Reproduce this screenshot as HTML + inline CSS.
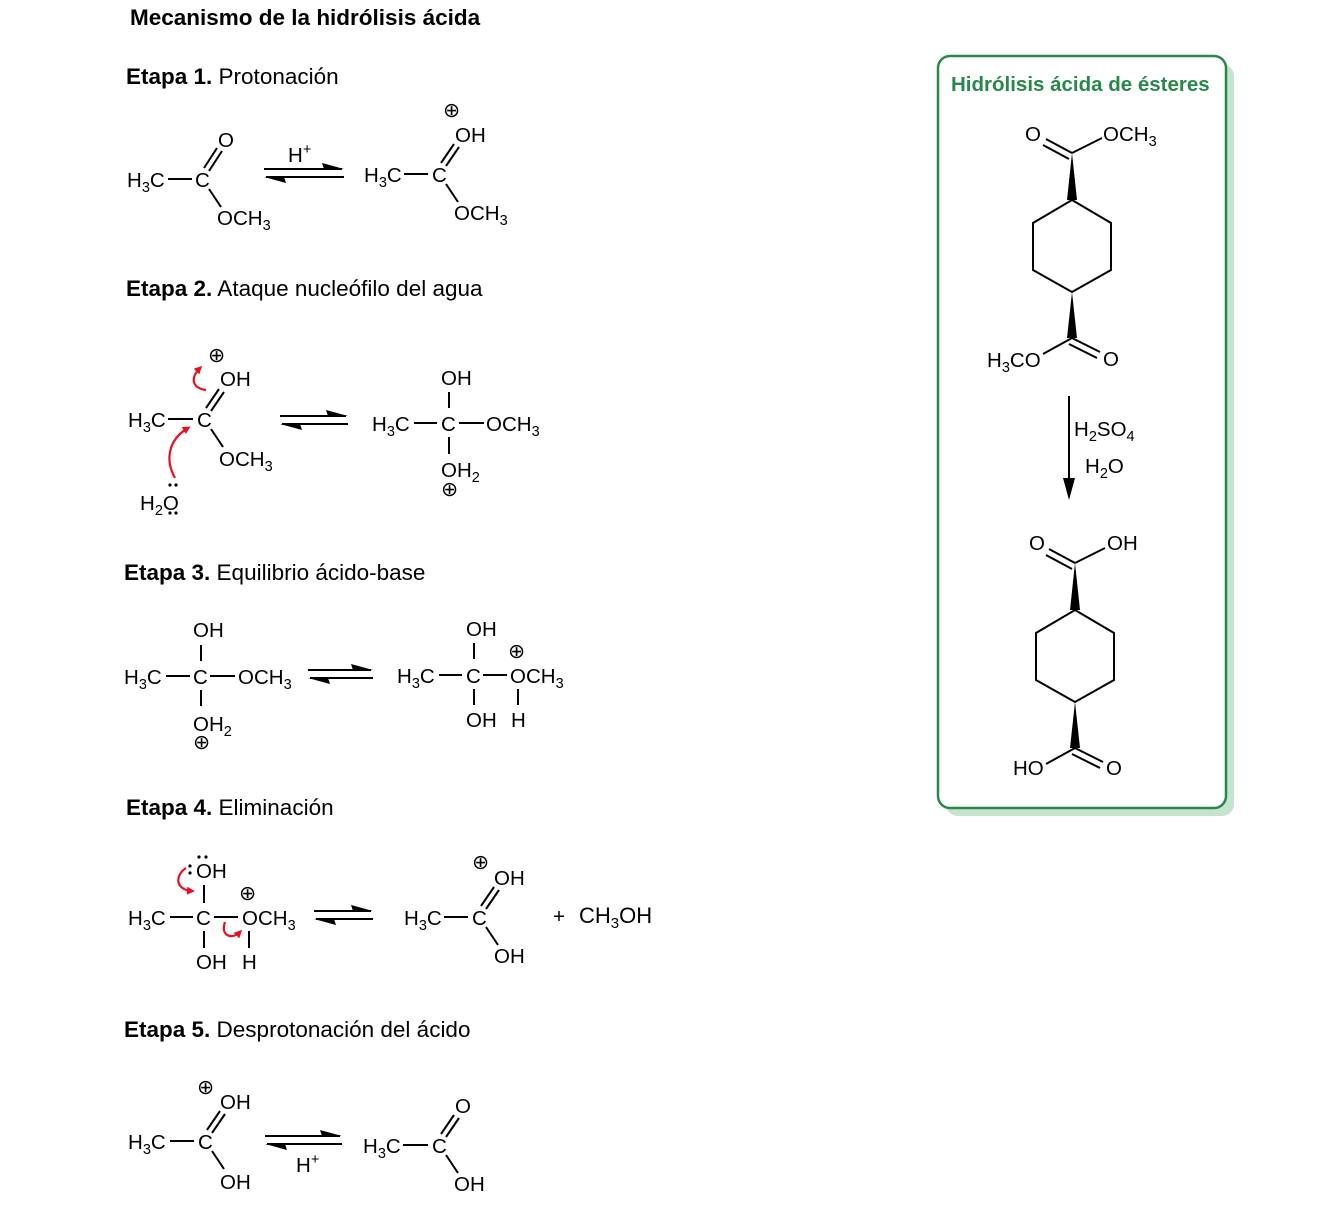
<!DOCTYPE html>
<html><head><meta charset="utf-8"><style>
html,body{margin:0;padding:0;background:#fff}
svg{display:block}
text{font-family:"Liberation Sans",Arial,sans-serif;fill:#000}
.t{font-size:20.5px}
.h{font-size:22.5px}
.b{font-weight:bold}
.s{font-size:14.5px}
line,polyline,path.l{stroke:#000;stroke-width:2;fill:none}
.r{stroke:#e8101e;stroke-width:2.2;fill:none}
</style></head><body>
<svg width="1334" height="1222" viewBox="0 0 1334 1222" xmlns="http://www.w3.org/2000/svg">
<defs>
<marker id="ra" markerWidth="8" markerHeight="8" refX="5" refY="4" orient="auto" markerUnits="userSpaceOnUse"><path d="M0,0 L8,4 L0,8 Z" fill="#e8101e"/></marker>
</defs>

<!-- Headings -->
<text x="130" y="25" class="h b">Mecanismo de la hidrólisis ácida</text>
<text x="126" y="84" class="h"><tspan class="b">Etapa 1.</tspan> Protonación</text>
<text x="126" y="296" class="h"><tspan class="b">Etapa 2.</tspan> Ataque nucleófilo del agua</text>
<text x="124" y="580" class="h"><tspan class="b">Etapa 3.</tspan> Equilibrio ácido-base</text>
<text x="126" y="815" class="h"><tspan class="b">Etapa 4.</tspan> Eliminación</text>
<text x="124" y="1037" class="h"><tspan class="b">Etapa 5.</tspan> Desprotonación del ácido</text>

<!-- STEP 1 -->
<text x="127" y="187" class="t">H<tspan class="s" dy="5">3</tspan><tspan dy="-5">C</tspan></text>
<line x1="168" y1="179" x2="192" y2="179"/>
<text x="195" y="187" class="t">C</text>
<line x1="204" y1="168" x2="217" y2="148"/><line x1="209" y1="171" x2="222" y2="151"/>
<text x="218" y="147" class="t">O</text>
<line x1="209" y1="189" x2="221" y2="207"/>
<text x="217" y="225" class="t">OCH<tspan class="s" dy="5">3</tspan></text>
<line x1="264" y1="169" x2="342" y2="169"/><path d="M344,169 L322,163 L324,169 Z" fill="#000"/>
<line x1="266" y1="177" x2="344" y2="177"/><path d="M264,177 L286,183 L284,177 Z" fill="#000"/>
<text x="288" y="162" class="t">H<tspan class="s" dy="-8">+</tspan></text>
<text x="364" y="182" class="t">H<tspan class="s" dy="5">3</tspan><tspan dy="-5">C</tspan></text>
<line x1="404" y1="174" x2="428" y2="174"/>
<text x="432" y="182" class="t">C</text>
<line x1="441" y1="163" x2="454" y2="144"/><line x1="446" y1="166" x2="459" y2="147"/>
<text x="455" y="142" class="t">OH</text>
<text x="443" y="117" class="t">⊕</text>
<line x1="446" y1="184" x2="458" y2="202"/>
<text x="454" y="220" class="t">OCH<tspan class="s" dy="5">3</tspan></text>

<!-- STEP 2 -->
<text x="128" y="427" class="t">H<tspan class="s" dy="5">3</tspan><tspan dy="-5">C</tspan></text>
<line x1="168" y1="419" x2="193" y2="419"/>
<text x="197" y="427" class="t">C</text>
<line x1="206" y1="408" x2="219" y2="389"/><line x1="211" y1="411" x2="224" y2="392"/>
<text x="220" y="386" class="t">OH</text>
<text x="208" y="362" class="t">⊕</text>
<line x1="211" y1="429" x2="223" y2="447"/>
<text x="219" y="466" class="t">OCH<tspan class="s" dy="5">3</tspan></text>
<text x="140" y="510" class="t">H<tspan class="s" dy="5">2</tspan><tspan dy="-5">O</tspan></text>
<circle cx="170" cy="485" r="1.6"/><circle cx="176" cy="485" r="1.6"/>
<circle cx="170" cy="513" r="1.6"/><circle cx="176" cy="513" r="1.6"/>
<path class="r" d="M175,478 C165,460 168,440 188,428" marker-end="url(#ra)"/>
<path class="r" d="M206,390 C192,388 190,378 200,368" marker-end="url(#ra)"/>
<line x1="280" y1="416" x2="346" y2="416"/><path d="M348,416 L326,410 L328,416 Z" fill="#000"/>
<line x1="282" y1="424" x2="348" y2="424"/><path d="M280,424 L302,430 L300,424 Z" fill="#000"/>
<text x="372" y="431" class="t">H<tspan class="s" dy="5">3</tspan><tspan dy="-5">C</tspan></text>
<line x1="414" y1="423" x2="437" y2="423"/>
<text x="441" y="431" class="t">C</text>
<line x1="459" y1="423" x2="484" y2="423"/>
<text x="486" y="431" class="t">OCH<tspan class="s" dy="5">3</tspan></text>
<text x="441" y="385" class="t">OH</text>
<line x1="449" y1="392" x2="449" y2="408"/>
<line x1="449" y1="437" x2="449" y2="454"/>
<text x="441" y="477" class="t">OH<tspan class="s" dy="5">2</tspan></text>
<text x="441" y="496" class="t">⊕</text>

<!-- STEP 3 -->
<text x="124" y="684" class="t">H<tspan class="s" dy="5">3</tspan><tspan dy="-5">C</tspan></text>
<line x1="166" y1="676" x2="190" y2="676"/>
<text x="193" y="684" class="t">C</text>
<line x1="210" y1="676" x2="235" y2="676"/>
<text x="238" y="684" class="t">OCH<tspan class="s" dy="5">3</tspan></text>
<text x="193" y="637" class="t">OH</text>
<line x1="201" y1="645" x2="201" y2="661"/>
<line x1="201" y1="690" x2="201" y2="706"/>
<text x="193" y="731" class="t">OH<tspan class="s" dy="5">2</tspan></text>
<text x="193" y="749" class="t">⊕</text>
<line x1="308" y1="670" x2="371" y2="670"/><path d="M373,670 L351,664 L353,670 Z" fill="#000"/>
<line x1="310" y1="678" x2="373" y2="678"/><path d="M308,678 L330,684 L328,678 Z" fill="#000"/>
<text x="397" y="683" class="t">H<tspan class="s" dy="5">3</tspan><tspan dy="-5">C</tspan></text>
<line x1="439" y1="675" x2="462" y2="675"/>
<text x="466" y="683" class="t">C</text>
<line x1="483" y1="675" x2="507" y2="675"/>
<text x="510" y="683" class="t">OCH<tspan class="s" dy="5">3</tspan></text>
<text x="466" y="636" class="t">OH</text>
<line x1="474" y1="643" x2="474" y2="659"/>
<line x1="474" y1="689" x2="474" y2="705"/>
<text x="466" y="727" class="t">OH</text>
<line x1="518" y1="689" x2="518" y2="705"/>
<text x="511" y="727" class="t">H</text>
<text x="508" y="658" class="t">⊕</text>

<!-- STEP 4 -->
<text x="128" y="925" class="t">H<tspan class="s" dy="5">3</tspan><tspan dy="-5">C</tspan></text>
<line x1="170" y1="917" x2="193" y2="917"/>
<text x="196" y="925" class="t">C</text>
<line x1="214" y1="917" x2="238" y2="917"/>
<text x="242" y="925" class="t">OCH<tspan class="s" dy="5">3</tspan></text>
<text x="196" y="878" class="t">OH</text>
<circle cx="199" cy="857" r="1.6"/><circle cx="206" cy="857" r="1.6"/>
<circle cx="190" cy="866" r="1.6"/><circle cx="190" cy="873" r="1.6"/>
<line x1="204" y1="885" x2="204" y2="903"/>
<line x1="204" y1="931" x2="204" y2="948"/>
<text x="196" y="969" class="t">OH</text>
<line x1="249" y1="931" x2="249" y2="948"/>
<text x="242" y="969" class="t">H</text>
<text x="239" y="900" class="t">⊕</text>
<path class="r" d="M186,868 C174,876 176,890 192,891" marker-end="url(#ra)"/>
<path class="r" d="M225,922 C220,936 232,940 240,932" marker-end="url(#ra)"/>
<line x1="314" y1="911" x2="371" y2="911"/><path d="M373,911 L351,905 L353,911 Z" fill="#000"/>
<line x1="316" y1="919" x2="373" y2="919"/><path d="M314,919 L336,925 L334,919 Z" fill="#000"/>
<text x="404" y="925" class="t">H<tspan class="s" dy="5">3</tspan><tspan dy="-5">C</tspan></text>
<line x1="444" y1="917" x2="468" y2="917"/>
<text x="472" y="925" class="t">C</text>
<line x1="481" y1="906" x2="494" y2="887"/><line x1="486" y1="909" x2="499" y2="890"/>
<text x="494" y="885" class="t">OH</text>
<text x="472" y="869" class="t">⊕</text>
<line x1="486" y1="927" x2="498" y2="945"/>
<text x="494" y="963" class="t">OH</text>
<text x="553" y="923" class="t">+</text>
<text x="579" y="923" style="font-size:22px">CH<tspan style="font-size:15px" dy="5">3</tspan><tspan dy="-5">OH</tspan></text>

<!-- STEP 5 -->
<text x="128" y="1149" class="t">H<tspan class="s" dy="5">3</tspan><tspan dy="-5">C</tspan></text>
<line x1="170" y1="1141" x2="194" y2="1141"/>
<text x="198" y="1149" class="t">C</text>
<line x1="207" y1="1130" x2="220" y2="1111"/><line x1="212" y1="1133" x2="225" y2="1114"/>
<text x="220" y="1109" class="t">OH</text>
<text x="197" y="1094" class="t">⊕</text>
<line x1="212" y1="1151" x2="224" y2="1169"/>
<text x="220" y="1189" class="t">OH</text>
<line x1="265" y1="1136" x2="340" y2="1136"/><path d="M342,1136 L320,1130 L322,1136 Z" fill="#000"/>
<line x1="267" y1="1144" x2="342" y2="1144"/><path d="M265,1144 L287,1150 L285,1144 Z" fill="#000"/>
<text x="296" y="1172" class="t">H<tspan class="s" dy="-8">+</tspan></text>
<text x="363" y="1153" class="t">H<tspan class="s" dy="5">3</tspan><tspan dy="-5">C</tspan></text>
<line x1="403" y1="1145" x2="428" y2="1145"/>
<text x="432" y="1153" class="t">C</text>
<line x1="441" y1="1134" x2="454" y2="1115"/><line x1="446" y1="1137" x2="459" y2="1118"/>
<text x="455" y="1113" class="t">O</text>
<line x1="446" y1="1155" x2="458" y2="1173"/>
<text x="454" y="1191" class="t">OH</text>

<!-- RIGHT BOX -->
<rect x="946" y="64" width="288" height="752" rx="12" fill="#c6e3d0"/>
<rect x="938" y="56" width="288" height="752" rx="12" fill="#fff" stroke="#27884a" stroke-width="2.5"/>
<text x="951" y="91" style="font-size:20.5px;font-weight:bold;fill:#27884a">Hidrólisis ácida de ésteres</text>

<text x="1025" y="141" class="t">O</text>
<text x="1103" y="141" class="t">OCH<tspan class="s" dy="5">3</tspan></text>
<line x1="1046" y1="139" x2="1072" y2="153"/><line x1="1043" y1="145" x2="1069" y2="159"/>
<line x1="1072" y1="153" x2="1102" y2="138"/>
<path d="M1072,153 L1077,200 L1067,200 Z" fill="#000"/>
<polygon points="1072,200 1111,223 1111,270 1072,292 1033,270 1033,223" fill="none" stroke="#000" stroke-width="2"/>
<path d="M1072,292 L1077,338 L1067,338 Z" fill="#000"/>
<line x1="1072" y1="338" x2="1043" y2="354"/>
<line x1="1072" y1="338" x2="1100" y2="352"/><line x1="1069" y1="344" x2="1097" y2="358"/>
<text x="987" y="367" class="t">H<tspan class="s" dy="5">3</tspan><tspan dy="-5">CO</tspan></text>
<text x="1103" y="366" class="t">O</text>

<line x1="1069" y1="396" x2="1069" y2="485"/>
<path d="M1069,500 L1063,478 L1075,478 Z" fill="#000"/>
<text x="1074" y="436" class="t">H<tspan class="s" dy="5">2</tspan><tspan dy="-5">SO</tspan><tspan class="s" dy="5">4</tspan></text>
<text x="1085" y="473" class="t">H<tspan class="s" dy="5">2</tspan><tspan dy="-5">O</tspan></text>

<text x="1029" y="550" class="t">O</text>
<text x="1107" y="550" class="t">OH</text>
<line x1="1049" y1="549" x2="1075" y2="563"/><line x1="1046" y1="555" x2="1072" y2="569"/>
<line x1="1075" y1="563" x2="1105" y2="548"/>
<path d="M1075,563 L1080,610 L1070,610 Z" fill="#000"/>
<polygon points="1075,610 1114,633 1114,680 1075,702 1036,680 1036,633" fill="none" stroke="#000" stroke-width="2"/>
<path d="M1075,702 L1080,748 L1070,748 Z" fill="#000"/>
<line x1="1075" y1="748" x2="1046" y2="764"/>
<line x1="1075" y1="748" x2="1103" y2="762"/><line x1="1072" y1="754" x2="1100" y2="768"/>
<text x="1013" y="775" class="t">HO</text>
<text x="1106" y="775" class="t">O</text>
</svg>
</body></html>
